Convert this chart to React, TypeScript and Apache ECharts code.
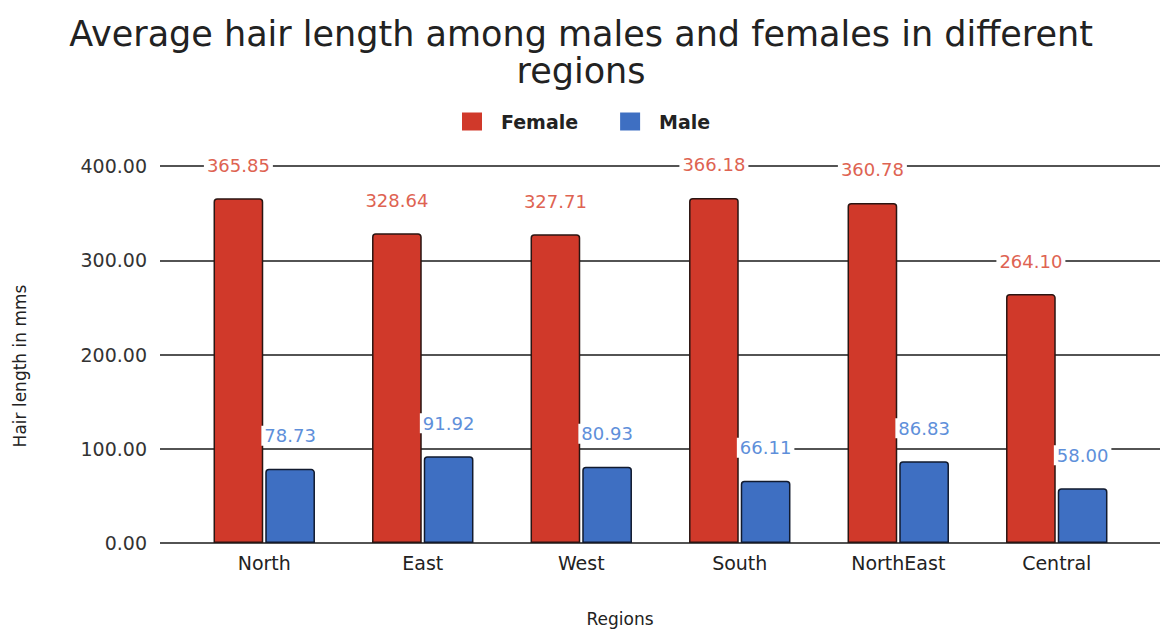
import React, { useEffect, useRef } from "react";
import * as echarts from "echarts";

const regions = ["North", "East", "West", "South", "NorthEast", "Central"];
const femaleValues = [365.85, 328.64, 327.71, 366.18, 360.78, 264.1];
const maleValues = [78.73, 91.92, 80.93, 66.11, 86.83, 58.0];
const yTicks = { min: 0, max: 400, interval: 100 };

const FONT = "DejaVu Sans";
const FEMALE = "#D0392A";
const MALE = "#3E6FC2";

export default function App() {
  const ref = useRef<HTMLDivElement>(null);

  useEffect(() => {
    if (!ref.current) return;
    const chart = echarts.init(ref.current, undefined, { renderer: "svg" });

    const labelFor = (color: string) => ({
      show: true,
      position: "top" as const,
      distance: 23,
      formatter: (p: any) => Number(p.value).toFixed(2),
      color,
      fontFamily: FONT,
      fontSize: 18,
      backgroundColor: "#ffffff",
      padding: [1, 3],
    });

    chart.setOption({
      animation: false,
      backgroundColor: "#ffffff",
      textStyle: { fontFamily: FONT },
      title: {
        text: "Average hair length among males and females in different\nregions",
        left: "center",
        top: 10,
        textStyle: {
          fontFamily: FONT,
          fontSize: 35,
          fontWeight: "normal",
          color: "#222222",
          lineHeight: 37,
        },
      },
      legend: {
        top: 107,
        left: 457,
        itemWidth: 20,
        itemHeight: 18,
        itemGap: 42,
        icon: "rect",
        itemStyle: { borderWidth: 0 },
        textStyle: {
          fontFamily: FONT,
          fontSize: 19,
          fontWeight: "bold",
          color: "#222222",
          padding: [0, 0, 0, 14],
        },
        data: ["Female", "Male"],
      },
      grid: [
        { left: 160, right: 2, top: 166, bottom: 88 },
        { left: 185, right: 26, top: 166, bottom: 88 },
      ],
      xAxis: [
        {
          type: "category",
          gridIndex: 0,
          data: regions,
          show: false,
        },
        {
          type: "category",
          gridIndex: 1,
          data: regions,
          axisLine: { show: false },
          axisTick: { show: false },
          axisLabel: {
            margin: 10,
            fontFamily: FONT,
            fontSize: 19,
            color: "#222222",
          },
        },
      ],
      yAxis: [
        {
          type: "value",
          gridIndex: 0,
          min: yTicks.min,
          max: yTicks.max,
          interval: yTicks.interval,
          axisLine: { show: false },
          axisTick: { show: false },
          axisLabel: {
            margin: 13,
            fontFamily: FONT,
            fontSize: 19,
            color: "#333333",
            formatter: (v: number) => v.toFixed(2),
          },
          splitLine: { lineStyle: { color: "#1a1a1a", width: 1.6 } },
        },
        {
          type: "value",
          gridIndex: 1,
          min: yTicks.min,
          max: yTicks.max,
          interval: yTicks.interval,
          show: false,
          splitLine: { show: false },
        },
      ],
      series: [
        {
          name: "Female",
          type: "bar",
          xAxisIndex: 1,
          yAxisIndex: 1,
          data: femaleValues,
          barCategoryGap: "36%",
          barGap: "4%",
          itemStyle: {
            color: FEMALE,
            borderColor: "#2a1512",
            borderWidth: 1.5,
            borderRadius: [3, 3, 0, 0],
          },
          label: labelFor("#DE6352"),
        },
        {
          name: "Male",
          type: "bar",
          xAxisIndex: 1,
          yAxisIndex: 1,
          data: maleValues,
          barCategoryGap: "36%",
          barGap: "4%",
          itemStyle: {
            color: MALE,
            borderColor: "#111a2e",
            borderWidth: 1.5,
            borderRadius: [3, 3, 0, 0],
          },
          label: labelFor("#5E8FDA"),
        },
      ],
      graphic: [
        {
          type: "text",
          x: 20,
          y: 366,
          rotation: Math.PI / 2,
          style: {
            text: "Hair length in mms",
            fontFamily: FONT,
            fontSize: 17,
            fill: "#222222",
            align: "center",
            verticalAlign: "middle",
          },
        },
        {
          type: "text",
          x: 620,
          y: 619,
          style: {
            text: "Regions",
            fontFamily: FONT,
            fontSize: 17,
            fill: "#222222",
            align: "center",
            verticalAlign: "middle",
          },
        },
      ],
    });

    return () => chart.dispose();
  }, []);

  return (
    <div
      ref={ref}
      style={{ position: "fixed", left: 0, top: 0, width: 1162, height: 631 }}
    />
  );
}
